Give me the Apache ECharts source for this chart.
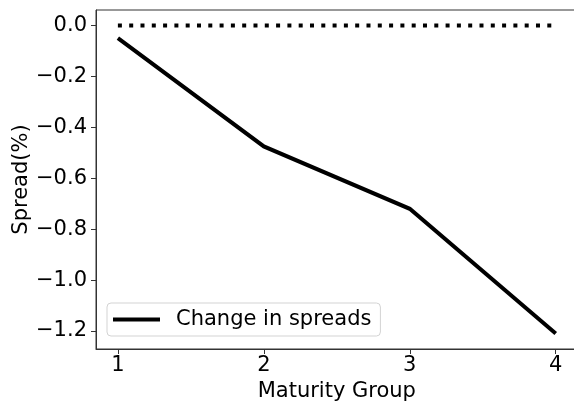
<!DOCTYPE html>
<html>
<head>
<meta charset="utf-8">
<script src="https://cdn.jsdelivr.net/npm/echarts@6/dist/echarts.min.js"></script>
<style>html,body{margin:0;padding:0;background:#fff;}#c{width:574px;height:402px;}</style>
</head>
<body>
<div id="c"></div>
<script>
var maturityGroups = [1, 2, 3, 4];
var spreadChange = [-0.05, -0.475, -0.72, -1.21];
var zeroLevel = 0;
var xTicks = [1, 2, 3, 4];
var yTicks = [0, -0.2, -0.4, -0.6, -0.8, -1.0, -1.2];

var chart = echarts.init(document.getElementById('c'), null, {renderer: 'canvas'});
var font = 'DejaVu Sans';
function fmtY(v) { return v.toFixed(1).replace('-', '\u2212'); }
var firstX = maturityGroups[0], lastX = maturityGroups[maturityGroups.length - 1];
chart.setOption({
  animation: false,
  backgroundColor: '#fff',
  grid: {left: 96, top: 10, width: 481.6, height: 339, show: true, borderColor: '#333', borderWidth: 1, backgroundColor: 'transparent', outerBoundsMode: 'none', containLabel: false},
  xAxis: {
    type: 'value', min: 0.85, max: 4.15,
    name: 'Maturity Group', nameLocation: 'middle', nameGap: 32, nameMoveOverlap: false,
    nameTextStyle: {fontFamily: font, fontSize: 21, color: '#000'},
    axisLine: {show: true, onZero: false, lineStyle: {color: '#333', width: 1}},
    axisTick: {show: true, length: 5, inside: false, customValues: xTicks, lineStyle: {color: '#333'}},
    axisLabel: {customValues: xTicks, margin: 6, fontFamily: font, fontSize: 21, color: '#000', formatter: function (v) { return String(v); }},
    splitLine: {show: false}
  },
  yAxis: {
    type: 'value', min: -1.2705, max: 0.0605,
    name: 'Spread(%)', nameLocation: 'middle', nameGap: 64, nameRotate: 90, nameMoveOverlap: false,
    nameTextStyle: {fontFamily: font, fontSize: 21, color: '#000'},
    axisLine: {show: true, onZero: false, lineStyle: {color: '#333', width: 1}},
    axisTick: {show: true, length: 5, customValues: yTicks, lineStyle: {color: '#333'}},
    axisLabel: {customValues: yTicks, margin: 9, fontFamily: font, fontSize: 21, color: '#000', formatter: fmtY},
    splitLine: {show: false}
  },
  legend: {
    data: ['Change in spreads'],
    left: 107, top: 303,
    orient: 'vertical',
    padding: [6, 9, 6, 6],
    borderColor: '#d3d3d3', borderWidth: 1, borderRadius: 4,
    backgroundColor: 'rgba(255,255,255,0.8)',
    icon: 'rect', itemWidth: 47, itemHeight: 4,
    textStyle: {fontFamily: font, fontSize: 21, color: '#000', padding: [0, 0, 0, 11]}
  },
  series: [
    {
      name: 'Change in spreads', type: 'line',
      data: maturityGroups.map(function (x, i) { return [x, spreadChange[i]]; }),
      showSymbol: false, symbol: 'none',
      lineStyle: {color: '#000', width: 4, cap: 'butt', join: 'miter'},
      itemStyle: {color: '#000'}
    },
    {
      name: 'zero', type: 'line',
      data: [[firstX, zeroLevel], [lastX, zeroLevel]],
      showSymbol: false, symbol: 'none',
      lineStyle: {color: '#000', width: 4, type: [4, 7.3], cap: 'butt'},
      itemStyle: {color: '#000'}
    }
  ]
});
</script>
</body>
</html>
